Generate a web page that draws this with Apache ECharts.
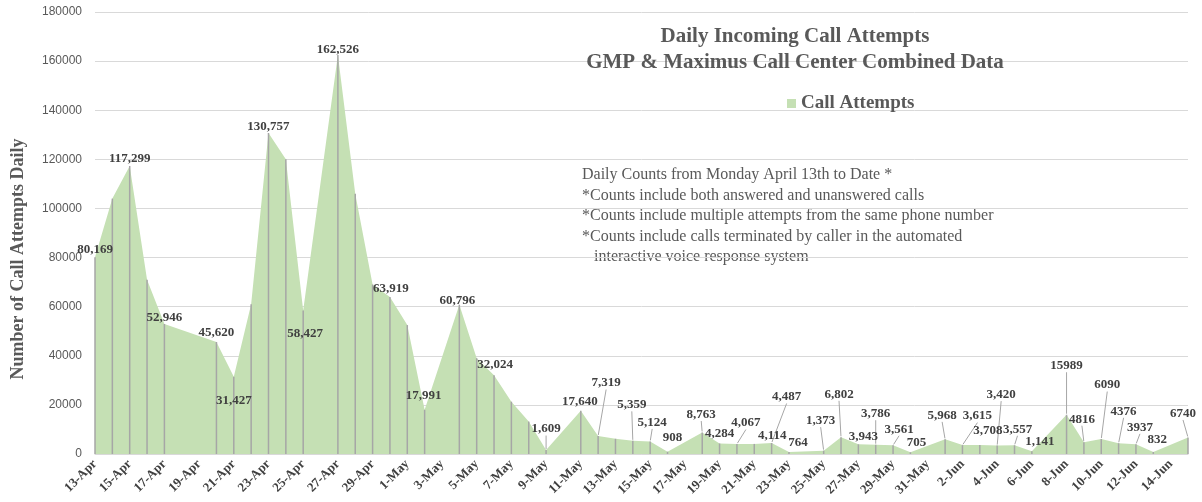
<!DOCTYPE html>
<html>
<head>
<meta charset="utf-8">
<script src="https://cdn.jsdelivr.net/npm/echarts@6/dist/echarts.min.js"></script>
<style>
    html, body { margin: 0; padding: 0; background: #fff; }
    #chart { width: 1202px; height: 502px; }
</style>
</head>
<body>
<div id="chart"></div>
<script>
// one entry per calendar day, null = no count reported (line joins across)
const dates = [
    "13-Apr", "14-Apr", "15-Apr", "16-Apr", "17-Apr", "18-Apr", "19-Apr", "20-Apr",
    "21-Apr", "22-Apr", "23-Apr", "24-Apr", "25-Apr", "26-Apr", "27-Apr", "28-Apr",
    "29-Apr", "30-Apr", "1-May", "2-May", "3-May", "4-May", "5-May", "6-May",
    "7-May", "8-May", "9-May", "10-May", "11-May", "12-May", "13-May", "14-May",
    "15-May", "16-May", "17-May", "18-May", "19-May", "20-May", "21-May", "22-May",
    "23-May", "24-May", "25-May", "26-May", "27-May", "28-May", "29-May", "30-May",
    "31-May", "1-Jun", "2-Jun", "3-Jun", "4-Jun", "5-Jun", "6-Jun", "7-Jun",
    "8-Jun", "9-Jun", "10-Jun", "11-Jun", "12-Jun", "13-Jun", "14-Jun", "15-Jun"
];

const callAttempts = [
    80169, 104000, 117299, 71000, 52946, null, null, 45620,
    31427, 61000, 130757, 120000, 58427, null, 162526, 106000,
    69000, 63919, 52500, 17991, null, 60796, 39000, 32024,
    21300, 13200, 1609, null, 17640, 7319, 6200, 5359,
    5124, 908, null, 8763, 4284, 4067, 4114, 4487,
    764, null, 1373, 6802, 3943, 3786, 3561, 705,
    null, 5968, 3615, 3708, 3420, 3557, 1141, null,
    15989, 4816, 6090, 4376, 3937, 832, null, 6740
];

// which points carry a value label, and where the label sits relative to the point [dx, dy]
const labelShift = {
    0: [0, -7], 2: [0, -7], 4: [0, -6], 7: [0, -9], 8: [0, 24], 10: [0, -6],
    12: [2, 23], 14: [0, -5], 17: [1, -8], 19: [-1, -14], 21: [-2, -4], 23: [1, -11],
    26: [0, -21], 28: [-1, -9], 29: [8, -53], 31: [-1, -36], 32: [2, -19], 33: [5, -14],
    35: [-1, -18], 36: [0, -10], 37: [9, -21], 38: [18, -8], 39: [15, -46], 40: [9, -9],
    42: [-3, -30], 43: [-2, -43], 44: [5, -8], 45: [0, -31], 46: [6, -16], 47: [6, -10],
    49: [-3, -24], 50: [15, -29], 51: [8, -14], 52: [4, -51], 53: [3, -16], 54: [8, -10],
    56: [0, -49], 57: [-2, -23], 58: [6, -54], 59: [5, -32], 60: [4, -17], 61: [4, -12],
    63: [-5, -24]
};

// from 8-Jun on the sheet shows the counts without a thousands separator
const plainFrom = 56;

const notes = [
    "Daily Counts from Monday April 13th to Date *",
    "*Counts include both answered and unanswered calls",
    "*Counts include multiple attempts from the same phone number",
    "*Counts include calls terminated by caller in the automated",
    "   interactive voice response system"
];

const colorArea = "#c5e0b4";
const colorDrop = "#a6a6a6";
const colorText = "#595959";
const colorLabel = "#404040";
const serif = "'Liberation Serif', 'Times New Roman', serif";

const chart = echarts.init(document.getElementById("chart"));

const labelData = callAttempts.map((v, i) => {
    const shift = labelShift[i];
    return {
        value: v,
        label: { show: !!shift },
        labelLine: { show: !!shift && shift[1] < -15 }
    };
});

chart.setOption({
    animation: false,
    title: {
        text: "Daily Incoming Call Attempts\nGMP & Maximus Call Center Combined Data",
        left: 795,
        top: 24,
        padding: 0,
        textAlign: "center",
        textStyle: {
            fontFamily: serif,
            fontWeight: "bold",
            fontSize: 21,
            lineHeight: 26,
            color: colorText
        }
    },
    legend: {
        data: ["Call Attempts"],
        left: 787,
        top: 94,
        padding: 0,
        icon: "rect",
        itemWidth: 9,
        itemHeight: 9,
        textStyle: {
            fontFamily: serif,
            fontWeight: "bold",
            fontSize: 19,
            color: colorText
        }
    },
    graphic: [
        {
            type: "text",
            left: 582,
            top: 165,
            silent: true,
            style: {
                text: notes.join("\n"),
                font: "16px 'Liberation Serif'",
                lineHeight: 20.5,
                fill: colorText
            }
        },
        {
            type: "text",
            x: 18,
            y: 259,
            rotation: Math.PI / 2,
            silent: true,
            style: {
                text: "Number of Call Attempts Daily",
                font: "bold 18px 'Liberation Serif'",
                fill: colorText,
                align: "center",
                verticalAlign: "middle"
            }
        }
    ],
    grid: {
        left: 95,
        right: 14,
        top: 12,
        bottom: 48
    },
    xAxis: {
        type: "category",
        data: dates,
        boundaryGap: false,
        axisLine: { lineStyle: { color: "#d9d9d9" } },
        axisTick: { show: false },
        axisLabel: {
            interval: 1,
            rotate: 45,
            margin: 8,
            fontFamily: serif,
            fontWeight: "bold",
            fontSize: 13,
            color: colorLabel
        }
    },
    yAxis: {
        type: "value",
        min: 0,
        max: 180000,
        interval: 20000,
        axisLine: { show: false },
        axisTick: { show: false },
        axisLabel: {
            margin: 13,
            fontFamily: "'Liberation Sans', sans-serif",
            fontSize: 12,
            color: colorText,
            formatter: v => String(v)
        },
        splitLine: { lineStyle: { color: "#d9d9d9" } }
    },
    series: [
        {
            name: "Call Attempts",
            type: "line",
            data: callAttempts,
            connectNulls: true,
            symbol: "none",
            z: 1,
            itemStyle: { color: colorArea },
            lineStyle: { width: 0 },
            areaStyle: { color: colorArea, opacity: 1 }
        },
        {
            name: "drop lines",
            type: "bar",
            data: callAttempts,
            barWidth: 1.5,
            z: 2,
            silent: true,
            itemStyle: { color: colorDrop }
        },
        {
            name: "values",
            type: "line",
            data: labelData,
            symbol: "circle",
            symbolSize: 2,
            showAllSymbol: true,
            connectNulls: true,
            z: 4,
            silent: true,
            itemStyle: { color: "rgba(0,0,0,0)" },
            lineStyle: { width: 0, opacity: 0 },
            label: {
                position: "inside",
                fontFamily: serif,
                fontWeight: "bold",
                fontSize: 13,
                color: colorLabel,
                formatter: p => p.dataIndex >= plainFrom
                    ? String(p.value)
                    : p.value.toLocaleString("en-US")
            },
            labelLine: {
                lineStyle: { color: colorDrop, width: 1 }
            },
            labelLayout: params => {
                const shift = labelShift[params.dataIndex];
                if (!shift) {
                    return {};
                }
                return {
                    x: params.rect.x + params.rect.width / 2 + shift[0],
                    y: params.rect.y + params.rect.height / 2 + shift[1],
                    align: "center",
                    verticalAlign: "middle"
                };
            }
        }
    ]
});
</script>
</body>
</html>
